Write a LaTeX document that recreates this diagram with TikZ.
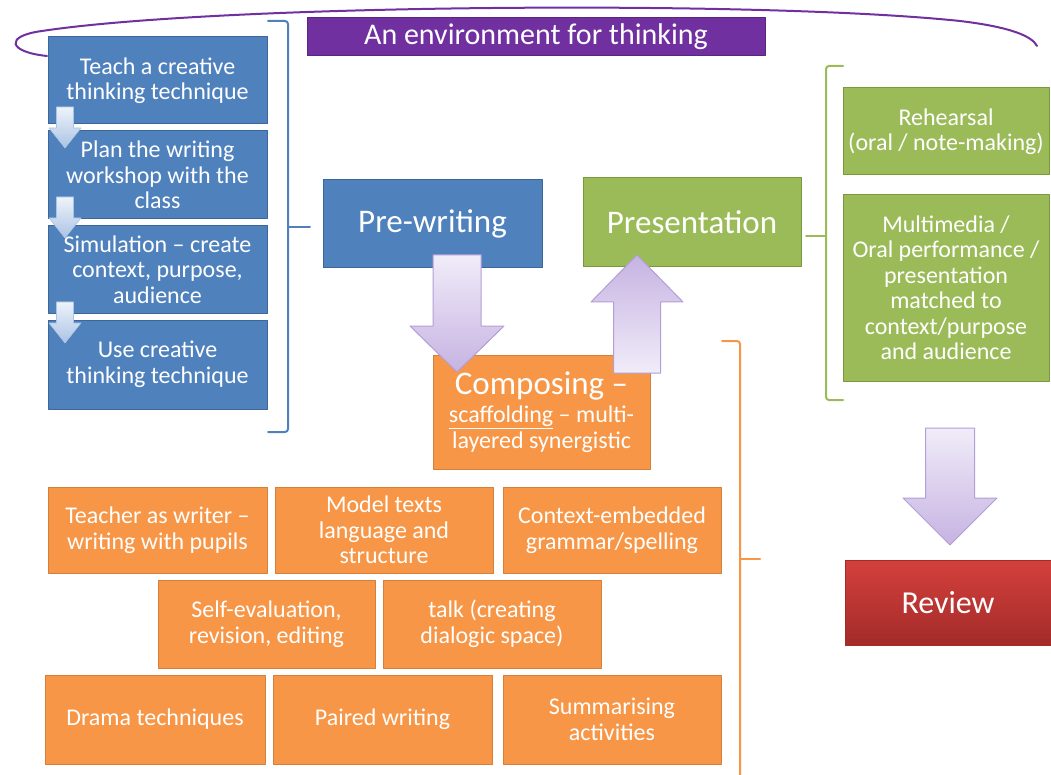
\documentclass[tikz,border=0pt]{standalone}
\usepackage{fontspec}
\setmainfont{Carlito}
\usepackage{xcolor}
\usepackage{tikz}
\usetikzlibrary{positioning}
\definecolor{cwBlue}{HTML}{4F81BD}
\definecolor{cwBlueLine}{HTML}{3B679B}
\definecolor{cwGreen}{HTML}{9BBB59}
\definecolor{cwGreenLine}{HTML}{789A3C}
\definecolor{cwOrange}{HTML}{F79646}
\definecolor{cwOrangeLine}{HTML}{D47F3A}
\definecolor{cwPurple}{HTML}{7030A0}
\definecolor{cwLilac}{HTML}{C6B3E2}
\definecolor{cwLilacPale}{HTML}{F1ECF9}
\definecolor{cwLilacLine}{HTML}{B29FD6}
\definecolor{cwSky}{HTML}{ABC3E4}
\definecolor{cwSkyPale}{HTML}{EEF3FA}
\definecolor{cwRedTop}{HTML}{D4403C}
\definecolor{cwRedBottom}{HTML}{A32B29}
% block arrow: centre x, tail y, head base y, tip y, half shaft, half head
\newcommand{\cwarrow}[6]{(#1-#5,#2) -- (#1+#5,#2) -- (#1+#5,#3) -- (#1+#6,#3) -- (#1,#4) -- (#1-#6,#3) -- (#1-#5,#3) -- cycle}
\tikzset{
  cw diagram/.style={line cap=round, line join=round},
  cw box/.style={draw, line width=1pt, text=white, align=center,
    inner sep=2pt, font=\fontsize{24}{25.5}\selectfont},
  cw blue/.style={cw box, fill=cwBlue, draw=cwBlueLine},
  cw green/.style={cw box, fill=cwGreen, draw=cwGreenLine},
  cw orange/.style={cw box, fill=cwOrange, draw=cwOrangeLine},
  cw stage/.style={font=\fontsize{33}{35}\selectfont},
  cw banner/.style={cw box, fill=cwPurple, draw=cwPurple!80!black,
    font=\fontsize{30}{32}\selectfont},
  cw ring/.style={draw=cwPurple, line width=2pt},
  cw bracket/.style={line width=2pt, rounded corners=3pt},
  cw big arrow/.style={draw=cwLilacLine, line width=1pt},
  cw small arrow/.style={draw=cwSky, line width=0.6pt,
    top color=cwSkyPale, bottom color=cwSky}
}
\begin{document}
\begin{tikzpicture}[cw diagram,x=1pt,y=-1pt]
\useasboundingbox (0,0) rectangle (1051,775);
% environment ring and title
\draw[cw ring] (47,56) .. controls (8,52) and (4,36) .. (42,31) .. controls (220,4) and (760,0) .. (960,21) .. controls (1010,27) and (1032,36) .. (1037,46);
\node[cw banner, minimum width=458, minimum height=38] (env) at (536,37) {An environment for thinking};
% pre-writing steps
\node[cw blue, minimum width=219, minimum height=87] (teach) at (157.5,80.5) {Teach a creative\\thinking technique};
\node[cw blue, minimum width=219, minimum height=88] (plan) at (157.5,175) {Plan the writing\\workshop with the\\class};
\node[cw blue, minimum width=219, minimum height=87] (sim) at (157.5,269.5) {Simulation – create\\context, purpose,\\audience};
\node[cw blue, minimum width=219, minimum height=89] (use) at (157.5,364.5) {Use creative\\thinking technique};
\foreach \t in {107,197,302}
  \path[cw small arrow] \cwarrow{65}{\t}{\t+21}{\t+41}{8.5}{16};
\draw[cw bracket, draw=cwBlue] (268,21) -- (288,21) -- (288,432) -- (268,432);
\draw[cw bracket, draw=cwBlue] (288,227) -- (310,227);
% main stages
\node[cw blue, cw stage, minimum width=219, minimum height=88] (pre) at (432.5,224) {Pre-writing};
\node[cw green, cw stage, minimum width=218, minimum height=89] (pres) at (692,222.5) {Presentation};
\node[cw orange, minimum width=217, minimum height=114] (comp) at (541.5,412)
  {{\fontsize{33}{33}\selectfont Composing –}\\[3pt]\underline{scaffolding} – multi-\\layered synergistic};
% presentation forms
\draw[cw bracket, draw=cwGreen] (843,66) -- (826,66) -- (826,400) -- (843,400);
\draw[cw bracket, draw=cwGreen] (826,236) -- (806,236);
\node[cw green, minimum width=206, minimum height=87] (rehearse) at (946,131.5) {Rehearsal\\(oral / note-making)};
\node[cw green, minimum width=206, minimum height=186] (media) at (946,288) {Multimedia /\\Oral performance /\\presentation\\matched to\\context/purpose\\and audience};
% composing strategies
\node[cw orange, minimum width=219, minimum height=86] (teacher) at (157.5,530) {Teacher as writer –\\writing with pupils};
\node[cw orange, minimum width=218, minimum height=86] (model) at (384,530) {Model texts\\language and\\structure};
\node[cw orange, minimum width=218, minimum height=86] (grammar) at (612,530) {Context-embedded\\grammar/spelling};
\node[cw orange, minimum width=217, minimum height=88] (self) at (266.5,624) {Self-evaluation,\\revision, editing};
\node[cw orange, minimum width=218, minimum height=88] (talk) at (492,624) {talk (creating\\dialogic space)};
\node[cw orange, minimum width=220, minimum height=89] (drama) at (155,719.5) {Drama techniques};
\node[cw orange, minimum width=219, minimum height=89] (paired) at (382.5,719.5) {Paired writing};
\node[cw orange, minimum width=218, minimum height=89] (summ) at (612,719.5) {Summarising\\activities};
\draw[cw bracket, draw=cwOrange] (722,341) -- (740,341) -- (740,776);
\draw[cw bracket, draw=cwOrange] (740,559) -- (760,559);
% review
\node[cw box, draw=cwRedBottom, top color=cwRedTop, bottom color=cwRedBottom,
  font=\fontsize{32}{34}\selectfont, minimum width=206, minimum height=85] (review) at (948,602.5) {Review};
% flow arrows
\path[cw big arrow, top color=cwLilacPale, bottom color=cwLilac] \cwarrow{457}{255}{326}{372}{24}{47};
\path[cw big arrow, top color=cwLilac, bottom color=cwLilacPale] \cwarrow{637}{373}{302}{255}{23.5}{46};
\path[cw big arrow, top color=cwLilacPale, bottom color=cwLilac] \cwarrow{950}{428}{498}{545}{24.5}{47};
\end{tikzpicture}
\end{document}
